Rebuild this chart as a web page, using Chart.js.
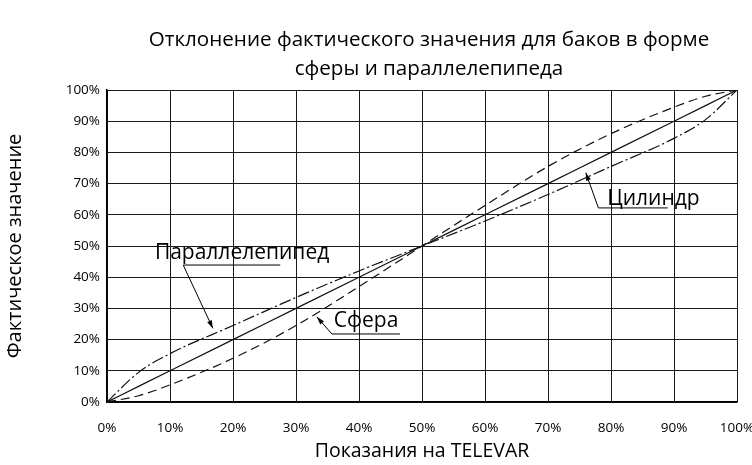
<!DOCTYPE html>
<html>
<head>
<meta charset="utf-8">
<script src="https://cdn.jsdelivr.net/npm/chart.js@4/dist/chart.umd.min.js"></script>
<style>
  html, body { margin: 0; padding: 0; background: #fff; }
</style>
</head>
<body>
<canvas id="myChart" width="752" height="465"></canvas>
<script>
// TELEVAR reading vs. actual fill level, %
const readings = [0, 5, 10, 20, 30, 40, 50, 60, 70, 80, 90, 95, 100];
const cylinder = [0, 5, 10, 20, 30, 40, 50, 60, 70, 80, 90, 95, 100];
const sphere = [0, 2, 5.5, 14, 24.5, 37, 50, 63, 75.5, 86, 94.5, 98, 100];
const box = [0, 9.5, 15.5, 24.5, 33.5, 42, 50, 58, 66.5, 75.5, 84.5, 90.5, 100];

const titleLines = [
  "Отклонение фактического значения для баков в форме",
  "сферы и параллелепипеда",
];
const xTitle = "Показания на TELEVAR";
const yTitle = "Фактическое значение";

// leader-line labels, in axis units
const callouts = [
  { text: "Цилиндр", tip: [76, 73.5], elbow: [78, 62.2], end: [89, 62.2], label: [79.4, 65.2] },
  { text: "Параллелепипед", tip: [16.8, 23.6], elbow: [12.1, 43.9], end: [27.5, 43.9], label: [7.6, 47.8] },
  { text: "Сфера", tip: [33.3, 27.3], elbow: [35.7, 21.8], end: [46.5, 21.8], label: [36.0, 26.0] },
];

const toPoints = (vals) => readings.map((r, i) => ({ x: r, y: vals[i] }));

const overlay = {
  id: "overlay",
  afterDraw(chart) {
    const { ctx, chartArea, scales } = chart;
    const px = (p) => [scales.x.getPixelForValue(p[0]), scales.y.getPixelForValue(p[1])];
    ctx.save();
    ctx.fillStyle = "#000";
    ctx.strokeStyle = "#000";
    ctx.textBaseline = "middle";

    // two-line heading
    ctx.font = '20.6px "Open Sans"';
    ctx.textAlign = "center";
    const cx = (chartArea.left + chartArea.right) / 2 + 7;
    titleLines.forEach((t, i) => ctx.fillText(t, cx, 40 + i * 29));

    // callouts with arrows
    ctx.font = '21px "Open Sans"';
    ctx.textAlign = "left";
    ctx.lineWidth = 1;
    callouts.forEach((c) => {
      const [tx, ty] = px(c.tip);
      const [ex, ey] = px(c.elbow);
      const [ux, uy] = px(c.end);
      ctx.beginPath();
      ctx.moveTo(ux, uy);
      ctx.lineTo(ex, ey);
      ctx.lineTo(tx, ty);
      ctx.stroke();
      const a = Math.atan2(ty - ey, tx - ex);
      const len = 8, half = 2.5;
      ctx.beginPath();
      ctx.moveTo(tx, ty);
      ctx.lineTo(tx - len * Math.cos(a) + half * Math.sin(a), ty - len * Math.sin(a) - half * Math.cos(a));
      ctx.lineTo(tx - len * Math.cos(a) - half * Math.sin(a), ty - len * Math.sin(a) + half * Math.cos(a));
      ctx.closePath();
      ctx.fill();
      const [lx, ly] = px(c.label);
      ctx.fillText(c.text, lx, ly);
    });
    ctx.restore();
  },
};

Chart.defaults.font.family = '"Open Sans", sans-serif';
Chart.defaults.color = "#000";

const lineStyle = {
  borderColor: "#111",
  borderWidth: 1.2,
  pointRadius: 0,
  cubicInterpolationMode: "monotone",
  fill: false,
};

const ctx = document.getElementById("myChart").getContext("2d");
const myChart = new Chart(ctx, {
  type: "line",
  data: {
    datasets: [
      { label: "Цилиндр", data: toPoints(cylinder), ...lineStyle },
      { label: "Сфера", data: toPoints(sphere), ...lineStyle, borderDash: [9, 5] },
      { label: "Параллелепипед", data: toPoints(box), ...lineStyle, borderDash: [12, 3, 2, 3] },
    ],
  },
  options: {
    responsive: false,
    animation: false,
    devicePixelRatio: 1,
    layout: { padding: { top: 90, right: 15, left: 0, bottom: 0 } },
    plugins: {
      legend: { display: false },
      tooltip: { enabled: false },
    },
    scales: {
      x: {
        type: "linear",
        min: 0,
        max: 100,
        afterFit: (s) => { s.height = 63; s.paddingLeft = 0; s.paddingRight = 0; },
        grid: { color: "#1a1a1a", lineWidth: 1, drawTicks: false },
        border: { color: "#000", width: 1.5 },
        ticks: { stepSize: 10, padding: 18, font: { size: 13.5 }, callback: (v) => v + "%" },
        title: { display: true, text: xTitle, font: { size: 19.5 }, padding: { top: 0, bottom: 2 } },
      },
      y: {
        type: "linear",
        min: 0,
        max: 100,
        afterFit: (s) => { s.width = 107; s.paddingTop = 0; s.paddingBottom = 0; },
        grid: { color: "#1a1a1a", lineWidth: 1, drawTicks: false },
        border: { color: "#000", width: 1.5 },
        ticks: { stepSize: 10, padding: 7, font: { size: 13.5 }, callback: (v) => v + "%" },
        title: { display: true, text: yTitle, font: { size: 20 }, padding: { top: 3, bottom: 0 } },
      },
    },
  },
  plugins: [overlay],
});
</script>
</body>
</html>
